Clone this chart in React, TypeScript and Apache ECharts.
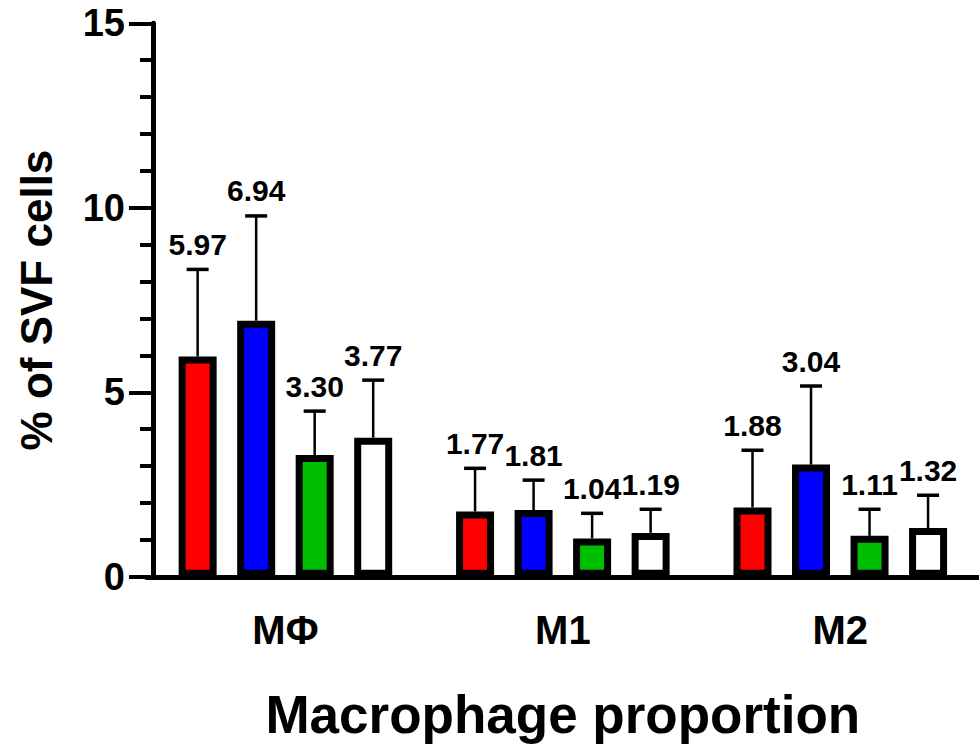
import React, { useEffect, useRef } from "react";
import * as echarts from "echarts";

const categories = ["MΦ", "M1", "M2"];
const groupNames = ["Group 1", "Group 2", "Group 3", "Group 4"];
const groupColors = ["#ff0000", "#0000ff", "#00bf00", "#ffffff"];

const redMeans = [5.97, 1.77, 1.88];
const blueMeans = [6.94, 1.81, 3.04];
const greenMeans = [3.3, 1.04, 1.11];
const whiteMeans = [3.77, 1.19, 1.32];

const redSD = [2.36, 1.17, 1.55];
const blueSD = [2.84, 0.81, 2.13];
const greenSD = [1.19, 0.68, 0.72];
const whiteSD = [1.56, 0.64, 0.89];

const yTicks = [0, 5, 10, 15];

const FONT = '"Liberation Sans", Arial, sans-serif';
const BAR_W = 38;
const BAR_GAP = "54%";

export default function App() {
  const ref = useRef<HTMLDivElement>(null);

  useEffect(() => {
    document.body.style.margin = "0";
    document.body.style.overflow = "hidden";
    if (!ref.current) return;
    const chart = echarts.init(ref.current, undefined, { renderer: "svg" });

    const means = [redMeans, blueMeans, greenMeans, whiteMeans];
    const sds = [redSD, blueSD, greenSD, whiteSD];

    const barSeries = means.map((m, g) => ({
      name: groupNames[g],
      type: "bar",
      data: m,
      barWidth: BAR_W,
      barGap: BAR_GAP,
      itemStyle: { color: groupColors[g], borderColor: "#000", borderWidth: 7 },
      z: 2,
    }));

    const errSeries = means.map((m, g) => ({
      name: groupNames[g] + " err",
      type: "custom",
      z: 3,
      encode: { x: 0, y: 1 },
      data: m.map((v, i) => [i, v, sds[g][i]]),
      renderItem: (params: any, api: any) => {
        const cat = api.value(0);
        const mean = api.value(1);
        const sd = api.value(2);
        const base = api.coord([cat, mean]);
        const top = api.coord([cat, mean + sd]);
        let off = 0;
        if (api.barLayout) {
          const layout = api.barLayout({ barWidth: BAR_W, barGap: BAR_GAP, count: 4 });
          off = layout[g].offsetCenter;
        }
        const x = base[0] + off;
        return {
          type: "group",
          children: [
            { type: "line", shape: { x1: x, y1: base[1], x2: x, y2: top[1] }, style: { stroke: "#000", lineWidth: 2.5 } },
            { type: "line", shape: { x1: x - 11, y1: top[1], x2: x + 11, y2: top[1] }, style: { stroke: "#000", lineWidth: 3.5 } },
            {
              type: "text",
              x: x,
              y: top[1] - 25,
              style: {
                text: mean.toFixed(2),
                align: "center",
                verticalAlign: "middle",
                font: `bold 30px ${FONT}`,
                fill: "#000",
              },
            },
          ],
        };
      },
    }));

    chart.setOption({
      animation: false,
      backgroundColor: "#fff",
      textStyle: { fontFamily: FONT },
      grid: { left: 146.7, top: 23.3, width: 840, height: 553.5, containLabel: false },
      xAxis: {
        type: "category",
        data: categories,
        name: "Macrophage proportion",
        nameLocation: "middle",
        nameGap: 111,
        nameTextStyle: { fontSize: 53, fontWeight: "bold", color: "#000", fontFamily: FONT },
        axisLine: { lineStyle: { color: "#000", width: 5 } },
        axisTick: { alignWithLabel: true, length: 22, lineStyle: { color: "#000", width: 4 } },
        axisLabel: { fontSize: 40, fontWeight: "bold", color: "#000", margin: 33, fontFamily: FONT },
      },
      yAxis: {
        type: "value",
        min: yTicks[0],
        max: yTicks[yTicks.length - 1],
        interval: yTicks[1] - yTicks[0],
        offset: -6.3,
        name: "% of SVF cells",
        nameLocation: "middle",
        nameGap: 95,
        nameTextStyle: { fontSize: 44, fontWeight: "bold", color: "#000", fontFamily: FONT },
        axisLine: { show: true, lineStyle: { color: "#000", width: 5 } },
        axisTick: { show: true, length: 24, lineStyle: { color: "#000", width: 4 } },
        minorTick: { show: true, splitNumber: 5, length: 13, lineStyle: { color: "#000", width: 4 } },
        splitLine: { show: false },
        axisLabel: { fontSize: 38, fontWeight: "bold", color: "#000", margin: 28, fontFamily: FONT },
      },
      series: [...barSeries, ...errSeries],
    });

    return () => chart.dispose();
  }, []);

  return <div ref={ref} style={{ width: 979, height: 749 }} />;
}
